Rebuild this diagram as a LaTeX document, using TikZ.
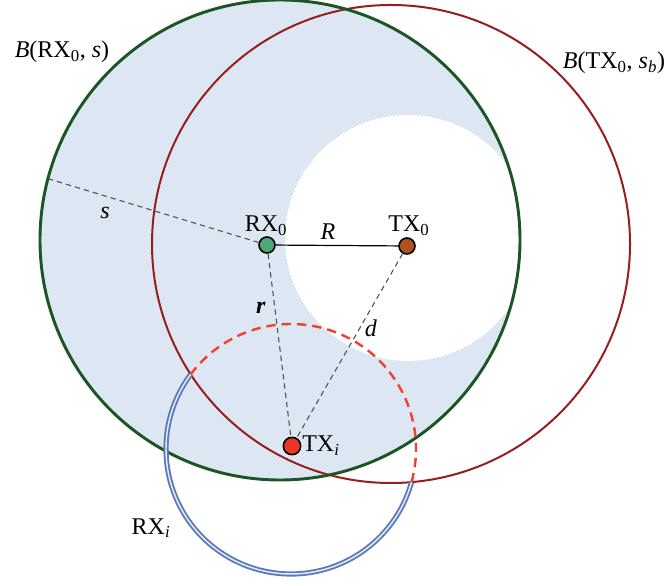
\documentclass[tikz,border=0pt]{standalone}
\usepackage{fontspec}
\setmainfont{Liberation Serif}
\definecolor{ringgreen}{RGB}{28,84,36}
\definecolor{ringred}{RGB}{150,30,30}
\definecolor{shadeblue}{RGB}{228,236,246}
\definecolor{hatchblue}{RGB}{200,214,234}
\definecolor{dashgray}{RGB}{70,85,75}
\definecolor{rxgreen}{RGB}{76,168,120}
\definecolor{txbrown}{RGB}{176,82,30}
\definecolor{txred}{RGB}{232,56,40}
\definecolor{dashred}{RGB}{240,64,48}
\definecolor{ringblue}{RGB}{90,122,186}
\tikzset{
  dot/.style={circle,draw=black,line width=1.2pt,minimum size=12pt,inner sep=0pt},
  helper/.style={draw=dashgray,dashed,line width=0.8pt,dash pattern=on 4pt off 3pt},
  lbl/.style={font=\fontsize{18}{21}\selectfont,inner sep=0pt},
  hatchline/.style={draw=hatchblue,line width=0.5pt},
}
\begin{document}
\begin{tikzpicture}[x=0.75pt,y=0.75pt]
\useasboundingbox (0,0) rectangle (670,585);
% shaded region: green ball minus white disc
\begin{scope}
\clip (280,345) circle[radius=240];
\fill[shadeblue] (280,345) circle[radius=240];
\foreach \i in {-600,-596,...,560} {
  \draw[hatchline] (\i,100) -- ++(500,500);
}
\fill[white] (408,347) circle[radius=123];
\end{scope}
% big circles
\draw[ringred,line width=1.5pt] (391,341) circle[radius=239];
\draw[ringgreen,line width=2.2pt] (280,345) circle[radius=240];
% small circle around TX_i
\coordinate (ci) at (291,136);
\draw[dashred,line width=1.8pt,dash pattern=on 7pt off 4.5pt] ([shift={(-15.4:125)}]ci) arc[start angle=-15.4,end angle=143.4,radius=125];
\draw[ringblue,double=white!85!ringblue,double distance=1.1pt,line width=1.4pt] ([shift={(143.4:125)}]ci) arc[start angle=143.4,end angle=344.6,radius=125];
% points
\coordinate (send) at (49,406);
\node[dot,fill=rxgreen] (rx0) at (267,340) {};
\node[dot,fill=txbrown] (tx0) at (407,339) {};
\node[dot,fill=txred,minimum size=13pt] (txi) at (292,139) {};
% connectors
\draw[helper] (rx0) -- (send);
\draw[helper] (rx0) -- (txi);
\draw[helper] (tx0) -- (txi);
\draw[black,line width=0.9pt] (rx0) -- (tx0);
% labels
\node[lbl] (lb1) at (62,533) {\textit{B}(RX\textsubscript{0}, \textit{s})};
\node[lbl] (lb2) at (614,522) {\textit{B}(TX\textsubscript{0}, \textit{s\textsubscript{b}})};
\node[lbl,anchor=base] (lrx0) at (266,353) {RX\textsubscript{0}};
\node[lbl,anchor=base] (ltx0) at (409,353) {TX\textsubscript{0}};
\node[lbl,anchor=base] (lR) at (328,345) {\textit{R}};
\node[lbl,anchor=base] (ls) at (105,366) {\textit{s}};
\node[lbl,anchor=base] (lr) at (261,271) {\textit{\textbf{r}}};
\node[lbl,anchor=base] (ld) at (371,248) {\textit{d}};
\node[lbl,anchor=base west] (ltxi) at (302,133) {TX\textsubscript{\textit{i}}};
\node[lbl,anchor=base] (lrxi) at (151,51) {RX\textsubscript{\textit{i}}};
\end{tikzpicture}
\end{document}
